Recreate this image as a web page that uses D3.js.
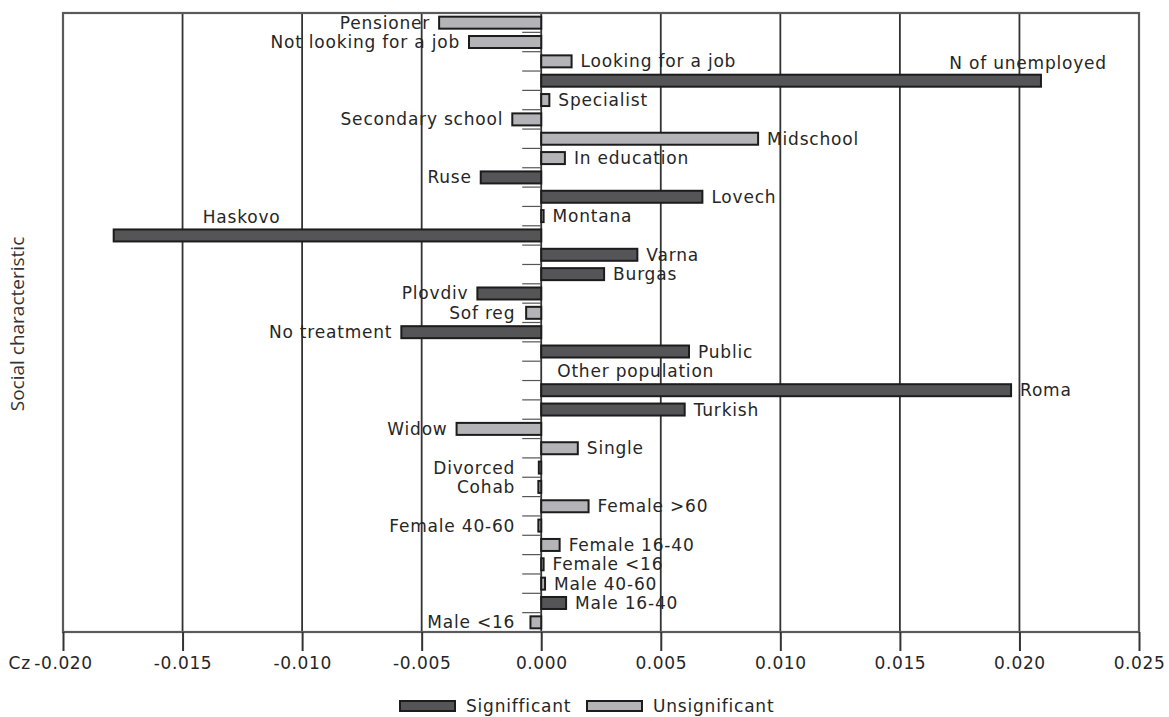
<!DOCTYPE html>
<meta charset="utf-8">
<script src="https://cdn.jsdelivr.net/npm/d3@7"></script>

<div id="chart"></div>

<style>
body { margin: 0; background: #fff; }
text { font-family: "DejaVu Sans", sans-serif; fill: #262626; }
.lbl { font-size: 17px; letter-spacing: 0.8px; }
.grid line { stroke: #333; stroke-width: 1.8; }
.x-axis path { display: none; }
.x-axis line { stroke: #333; stroke-width: 2; }
.x-axis text { font-size: 17px; letter-spacing: 0.6px; fill: #262626; }
</style>

<script>
  // Data, top to bottom
  var categories = ["Pensioner", "Not looking for a job", "Looking for a job", "N of unemployed",
    "Specialist", "Secondary school", "Midschool", "In education", "Ruse", "Lovech", "Montana",
    "Haskovo", "Varna", "Burgas", "Plovdiv", "Sof reg", "No treatment", "Public",
    "Other population", "Roma", "Turkish", "Widow", "Single", "Divorced", "Cohab",
    "Female >60", "Female 40-60", "Female 16-40", "Female <16", "Male 40-60", "Male 16-40", "Male <16"];
  var values = [-0.00427, -0.00302, 0.00127, 0.0209,
    0.00034, -0.00121, 0.00907, 0.00099, -0.00253, 0.00674, 0.0001,
    -0.01788, 0.00402, 0.00263, -0.00267, -0.00063, -0.00585, 0.00618,
    null, 0.01965, 0.0060, -0.00354, 0.00153, -0.0001, -0.00012,
    0.00198, -0.00012, 0.00077, 0.0001, 0.00016, 0.00104, -0.00045];
  var significant = [0, 0, 0, 1,
    0, 0, 0, 0, 1, 1, 0,
    1, 1, 1, 1, 0, 1, 1,
    0, 1, 1, 0, 0, 0, 0,
    0, 0, 0, 0, 0, 1, 0];
  var xTicks = [-0.020, -0.015, -0.010, -0.005, 0.000, 0.005, 0.010, 0.015, 0.020, 0.025];
  var legendLabels = ["Signifficant", "Unsignificant"];

  // a few labels sit above their bar instead of beside it
  var labelPlace = {
    "N of unemployed": { above: true, anchor: "end", dx: 66 },
    "Haskovo": { above: true, anchor: "start", dx: 89 },
    "Other population": { dx: 16 }
  };

  var colors = ["#b4b4b8", "#555558"];

  // Boilerplate
  var margin = { top: 13, right: 30, bottom: 85, left: 63 },
      width = 1169 - margin.left - margin.right,
      height = 717 - margin.top - margin.bottom;
  var root = d3.select("#chart")
              .append("svg")
              .attr("width", 1169)
              .attr("height", 717);
  var svg = root.append("g")
              .attr("transform", "translate(" + margin.left + "," + margin.top + ")");

  // Scales
  var x = d3.scaleLinear()
            .domain([-0.020, 0.025])
            .range([0, width]);
  var y = d3.scaleBand()
            .domain(categories)
            .range([0, height])
            .paddingInner(0.38)
            .paddingOuter(0.19);
  var step = y.step(), bw = y.bandwidth(), x0 = x(0);

  // Gridlines
  svg.append("g")
     .attr("class", "grid")
     .selectAll("line")
     .data(xTicks)
     .enter()
     .append("line")
     .attr("x1", function (d) { return x(d); })
     .attr("x2", function (d) { return x(d); })
     .attr("y1", 0)
     .attr("y2", height);

  // Frame
  svg.append("rect")
     .attr("width", width)
     .attr("height", height)
     .attr("fill", "none")
     .attr("stroke", "#5a5a5a")
     .attr("stroke-width", 2.2);

  // small ticks on the left of the zero line, between categories
  svg.append("g")
     .selectAll("line")
     .data(categories.slice(1))
     .enter()
     .append("line")
     .attr("x1", x0 - 19)
     .attr("x2", x0)
     .attr("y1", function (d) { return y(d) - (step - bw) / 2; })
     .attr("y2", function (d) { return y(d) - (step - bw) / 2; })
     .attr("stroke", "#555")
     .attr("stroke-width", 1.2);

  // X axis
  var axis = d3.axisBottom(x)
               .tickValues(xTicks)
               .tickSize(19)
               .tickPadding(6)
               .tickFormat(function (d) { return d.toFixed(3); });
  svg.append("g")
     .attr("class", "x-axis")
     .attr("transform", "translate(0," + height + ")")
     .call(axis);

  svg.append("text")
     .attr("class", "lbl")
     .attr("x", -32)
     .attr("y", height + 37)
     .attr("text-anchor", "end")
     .text("Cz");

  // Bars
  var rows = categories.map(function (c, i) {
    return { cat: c, v: values[i], sig: significant[i] };
  });

  svg.selectAll("rect.bar")
     .data(rows.filter(function (d) { return d.v !== null; }))
     .enter()
     .append("rect")
     .attr("class", "bar")
     .attr("x", function (d) { return x(Math.min(0, d.v)); })
     .attr("y", function (d) { return y(d.cat); })
     .attr("width", function (d) { return Math.abs(x(d.v) - x0); })
     .attr("height", bw)
     .attr("fill", function (d) { return colors[d.sig]; })
     .attr("stroke", "#1c1c1c")
     .attr("stroke-width", 2);

  // Labels
  svg.selectAll("text.bl")
     .data(rows)
     .enter()
     .append("text")
     .attr("class", "lbl bl")
     .each(function (d) {
       var t = d3.select(this), p = labelPlace[d.cat] || {};
       var xv = x(d.v || 0), cy = y(d.cat) + bw / 2;
       if (p.above) {
         t.attr("x", xv + p.dx).attr("y", cy - 12).attr("text-anchor", p.anchor);
       } else if (d.v === null || d.v > 0) {
         t.attr("x", xv + (p.dx || 9)).attr("y", cy + 6).attr("text-anchor", "start");
       } else {
         t.attr("x", Math.min(xv, x0 - 17) - 9).attr("y", cy + 6).attr("text-anchor", "end");
       }
     })
     .text(function (d) { return d.cat; });

  // Y title
  root.append("text")
      .attr("transform", "translate(24,324) rotate(-90)")
      .attr("text-anchor", "middle")
      .style("font-family", "'Open Sans', sans-serif")
      .style("font-size", "19px")
      .style("fill", "#333")
      .text("Social characteristic");

  // Legend
  var legend = root.append("g")
                   .attr("transform", "translate(400,700)");
  var lx = [0, 187];
  legendLabels.forEach(function (l, i) {
    legend.append("rect")
          .attr("x", lx[i])
          .attr("y", 1)
          .attr("width", 55)
          .attr("height", 10)
          .attr("fill", colors[1 - i])
          .attr("stroke", "#1c1c1c")
          .attr("stroke-width", 2);
    legend.append("text")
          .attr("class", "lbl")
          .attr("x", lx[i] + 66)
          .attr("y", 12)
          .text(l);
  });
</script>
